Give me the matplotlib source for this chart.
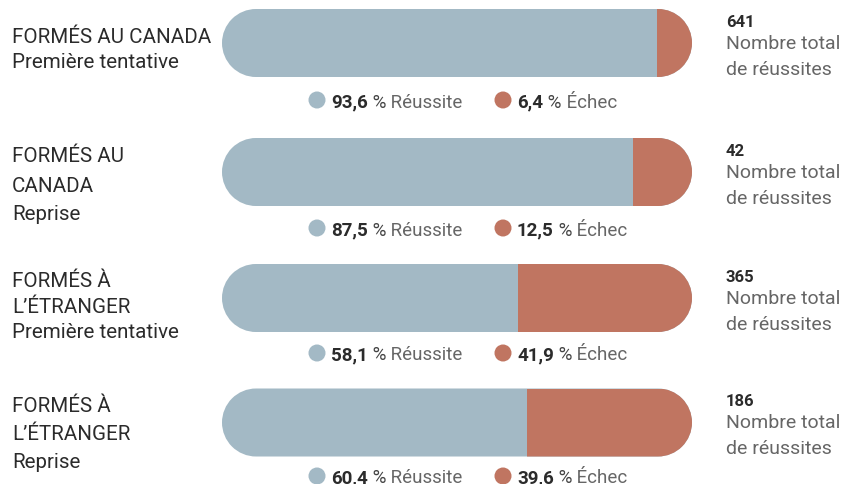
import matplotlib.pyplot as plt
import numpy as np
from matplotlib.path import Path
from matplotlib.patches import PathPatch

# data
groups = [
    ["FORMÉS AU CANADA", "Première tentative"],
    ["FORMÉS AU", "CANADA", "Reprise"],
    ["FORMÉS À", "L’ÉTRANGER", "Première tentative"],
    ["FORMÉS À", "L’ÉTRANGER", "Reprise"],
]
success_pct = [93.6, 87.5, 58.1, 60.4]
failure_pct = [6.4, 12.5, 41.9, 39.6]
total_success = [641, 42, 365, 186]

BLUE = "#a3b9c5"
RED = "#c07561"
DARK = "#2b2b2b"
GREY = "#666666"

plt.rcParams["font.family"] = ["Roboto", "DejaVu Sans"]

# layout (pixels of the 846x485 picture)
W, H = 846, 485
X0 = 289.7          # pixel where 0 % sits
S = 3.923           # pixels per percent
row_px = [44, 173, 299, 423.5]
legend_px = [101, 229, 354, 477]
label_base = [[43, 68], [162, 192, 220], [287, 313, 338], [412, 440, 468]]
bar_h_px = 68
cap_left_px, cap_right_px = 222, 692


def ux(p):
    return (p - X0) / S


def uy(p):
    return p / S


def capsule_path(x0, x1, yc, h):
    # pill shape: two half circles joined by straight edges
    r = h / 2
    left = Path.arc(90, 270)
    right = Path.arc(-90, 90)
    lv = left.vertices * r + [x0 + r, yc]
    rv = right.vertices * r + [x1 - r, yc]
    verts = np.vstack([lv, rv, lv[:1]])
    codes = np.concatenate([left.codes, right.codes, [Path.CLOSEPOLY]])
    codes[len(left.codes)] = Path.LINETO
    return Path(verts, codes)


fig = plt.figure(figsize=(W / 100, H / 100), dpi=100)
ax = fig.add_axes([0, 0, 1, 1])
ax.set_xlim(ux(0), ux(W))
ax.set_ylim(uy(H), uy(0))
ax.axis("off")

bh = bar_h_px / S
cl, cr = ux(cap_left_px), ux(cap_right_px)

for i, (lines, ok, ko, tot) in enumerate(zip(groups, success_pct, failure_pct, total_success)):
    yc = uy(row_px[i])
    capsule = PathPatch(capsule_path(cl, cr, yc, bh), facecolor=BLUE, edgecolor="none")
    ax.add_patch(capsule)
    red = ax.barh(yc, cr - ok, left=ok, height=bh, color=RED, edgecolor="none")
    for r in red:
        r.set_clip_path(capsule)

    # left label
    for txt, b in zip(lines, label_base[i]):
        ax.text(ux(12), uy(b), txt, fontsize=14.8, color=DARK, va="baseline", ha="left")

    # right totals
    ax.text(ux(726), uy(row_px[i] - 17), f"{tot}", fontsize=12, fontweight="bold",
            color=DARK, va="baseline", ha="left")
    ax.text(ux(726), uy(row_px[i] + 5), "Nombre total", fontsize=14, color=GREY,
            va="baseline", ha="left")
    ax.text(ux(726), uy(row_px[i] + 31), "de réussites", fontsize=14, color=GREY,
            va="baseline", ha="left")

    # legend under the bar
    ly = legend_px[i]
    for cx, tx, val, name, col in [(317, 331, ok, "Réussite", BLUE),
                                   (503, 517, ko, "Échec", RED)]:
        ax.scatter([ux(cx)], [uy(ly)], s=150, color=col, edgecolors="none")
        t1 = ax.text(ux(tx), uy(ly + 6.5), f"{val:.1f}".replace(".", ","), fontsize=13.5,
                     fontweight="bold", color=DARK, va="baseline", ha="left")
        t2 = ax.annotate(" %", xy=(1, 0), xycoords=t1, va="bottom", ha="left",
                         fontsize=13.5, color="#444444")
        ax.annotate(" " + name, xy=(1, 0), xycoords=t2, va="bottom", ha="left",
                    fontsize=13.5, color=GREY)

fig.savefig("out.png", dpi=100)
